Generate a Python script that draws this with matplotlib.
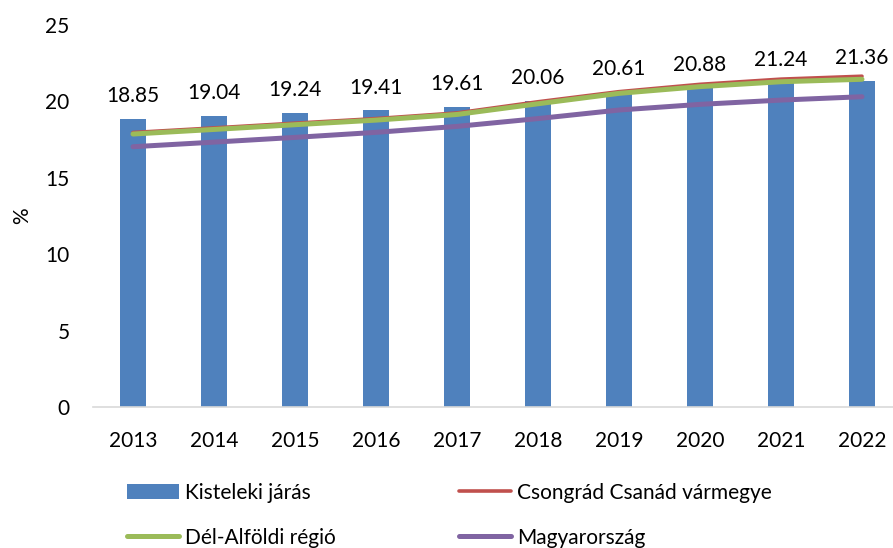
import matplotlib.pyplot as plt
import numpy as np

plt.rcParams['font.family'] = ['Lato', 'DejaVu Sans']

years = ['2013', '2014', '2015', '2016', '2017', '2018', '2019', '2020', '2021', '2022']
kisteleki = [18.85, 19.04, 19.24, 19.41, 19.61, 20.06, 20.61, 20.88, 21.24, 21.36]
csongrad = [17.97, 18.27, 18.58, 18.88, 19.25, 19.98, 20.64, 21.12, 21.46, 21.65]
del_alfold = [17.87, 18.17, 18.48, 18.78, 19.15, 19.85, 20.53, 20.97, 21.29, 21.45]
magyar = [17.04, 17.34, 17.65, 17.98, 18.37, 18.88, 19.44, 19.81, 20.09, 20.31]

fs = 15
fig = plt.figure(figsize=(8.93, 5.48), dpi=100)
ax = fig.add_axes([92.5 / 893, 1 - 407.3 / 548, 810 / 893, 382.3 / 548])

x = np.arange(len(years))
bars = ax.bar(x, kisteleki, width=0.31, color='#4F81BD', label='Kisteleki járás', zorder=2)
l1, = ax.plot(x, csongrad, color='#C0504D', lw=2.6, solid_capstyle='round',
              label='Csongrád Csanád vármegye', zorder=3)
l2, = ax.plot(x, del_alfold, color='#9BBB59', lw=3.6, solid_capstyle='round',
              label='Dél-Alföldi régió', zorder=4)
l3, = ax.plot(x, magyar, color='#8064A2', lw=3.6, solid_capstyle='round',
              label='Magyarország', zorder=4)

for xi, v in zip(x, kisteleki):
    ax.annotate(f"{v:.2f}", (xi, v), textcoords='offset points', xytext=(0, 12.2),
                ha='center', va='baseline', fontsize=fs, color='black')

ax.set_xlim(-0.5, len(years) - 0.5)
ax.set_ylim(0, 25)
ax.set_yticks([0, 5, 10, 15, 20, 25])
ax.set_xticks(x)
ax.set_xticklabels(years)
ax.tick_params(axis='both', length=0, labelsize=fs)
ax.tick_params(axis='x', pad=17)
ax.tick_params(axis='y', pad=16.5)
for s in ['top', 'right', 'left']:
    ax.spines[s].set_visible(False)
ax.spines['bottom'].set_color('#D9D9D9')
ax.spines['bottom'].set_linewidth(1.2)
ax.set_ylabel('%', fontsize=fs)
ax.yaxis.set_label_coords((32 - 92.5) / 810, (407.3 - 216) / 382.3)

# column-first fill: col 1 = bars, green; col 2 = red, purple
fig.legend([bars, l2, l1, l3],
           ['Kisteleki járás', 'Dél-Alföldi régió', 'Csongrád Csanád vármegye', 'Magyarország'],
           ncol=2, loc='upper left', bbox_to_anchor=(108 / 893, 1 - 464 / 548),
           frameon=False, fontsize=fs, handlelength=2.5, handletextpad=0.3,
           columnspacing=5.9, labelspacing=1.2)

plt.savefig('out.png', dpi=100)
